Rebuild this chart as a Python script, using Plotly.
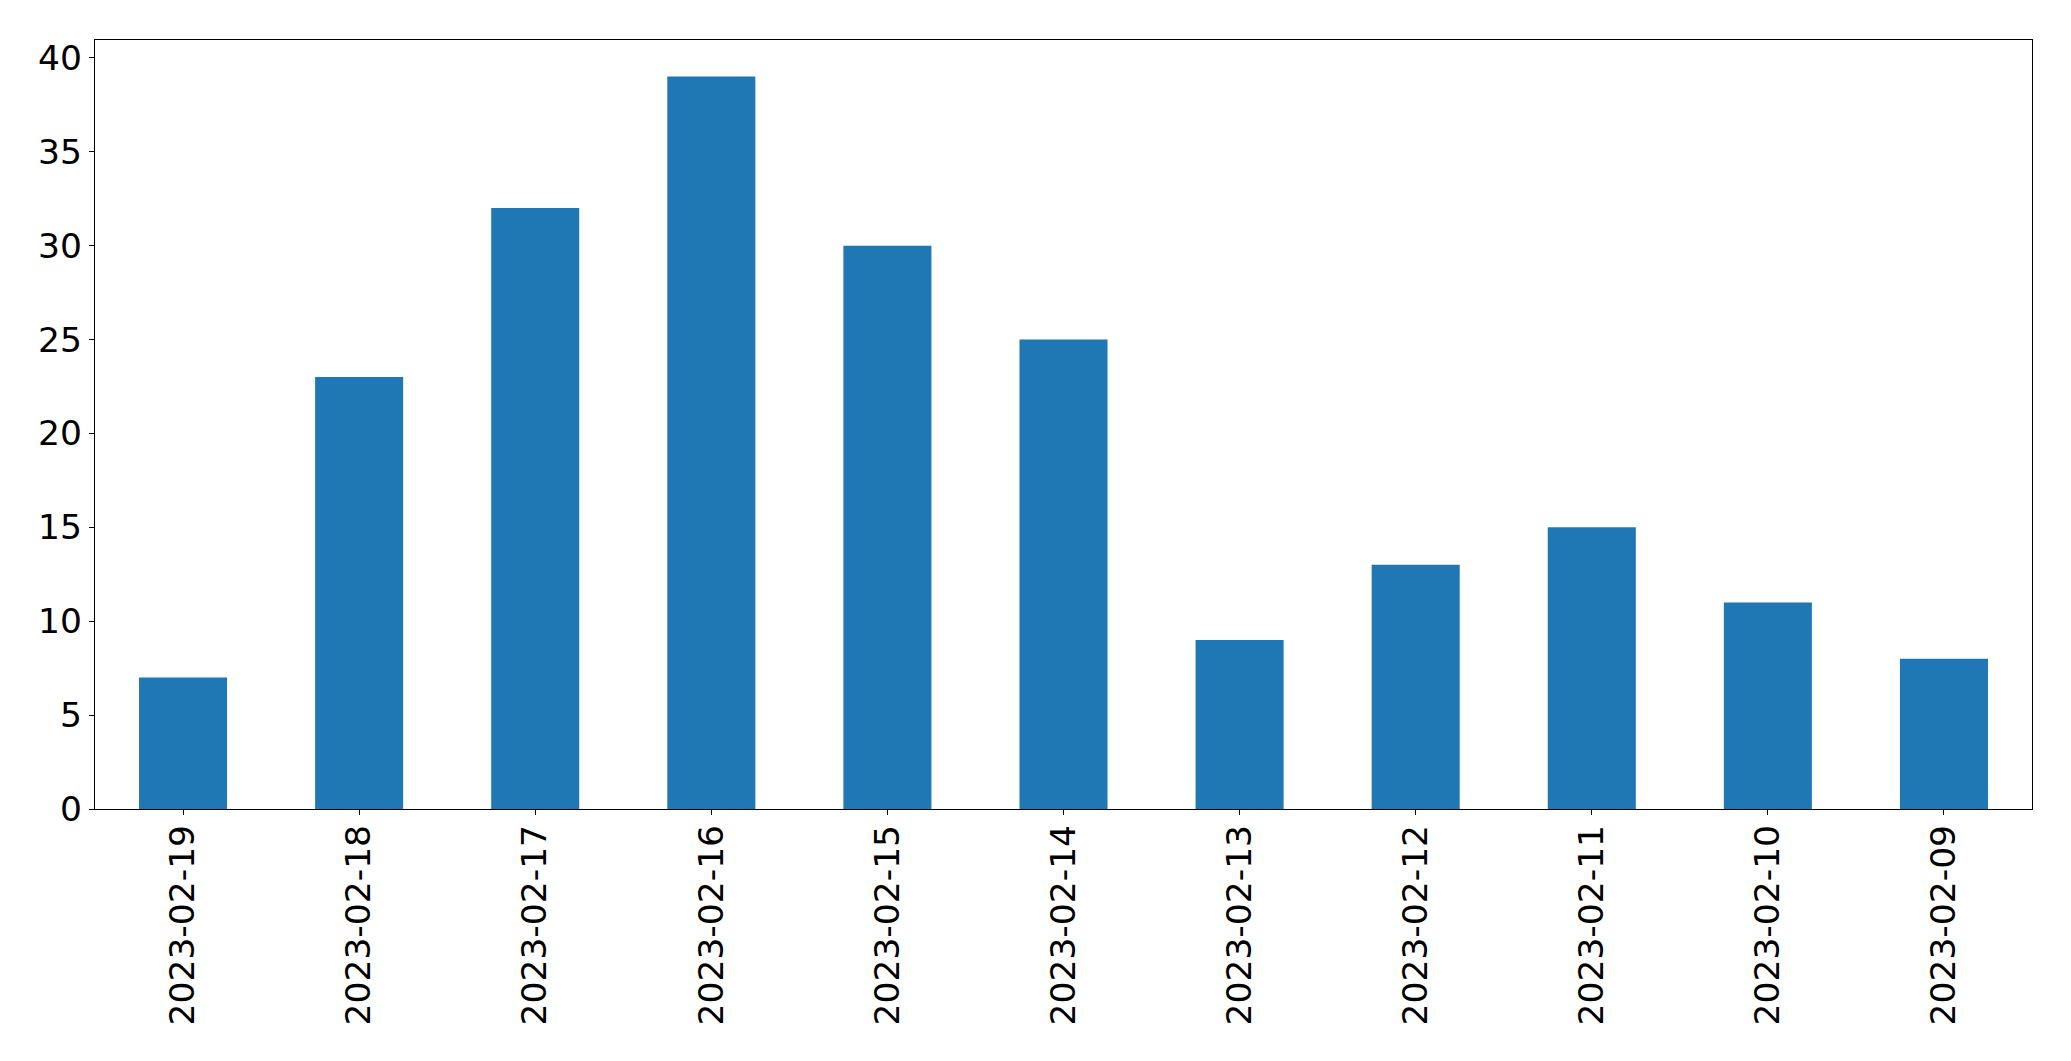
import plotly.graph_objects as go

dates = ["2023-02-19", "2023-02-18", "2023-02-17", "2023-02-16", "2023-02-15",
         "2023-02-14", "2023-02-13", "2023-02-12", "2023-02-11", "2023-02-10", "2023-02-09"]
counts = [7, 23, 32, 39, 30, 25, 9, 13, 15, 11, 8]

fig = go.Figure(go.Bar(x=dates, y=counts, width=0.5, marker=dict(color="#1f77b4", line=dict(width=0))))

axis_font = dict(family="DejaVu Sans", size=34.5, color="black")
fig.update_layout(
    width=2063, height=1053,
    margin=dict(l=87, r=39, t=32, b=252, pad=0),
    paper_bgcolor="white", plot_bgcolor="white",
    showlegend=False,
    bargap=0.5,
    xaxis=dict(type="category", categoryorder="array", categoryarray=dates,
               range=[-0.5, len(dates) - 0.5], tickangle=-90, tickfont=axis_font,
               showline=True, linecolor="black", linewidth=1.3, mirror=True,
               ticks="outside", ticklen=5, tickcolor="black", tickwidth=1.3,
               showgrid=False, zeroline=False, ticklabelstandoff=-4),
    yaxis=dict(range=[0, 40.95], tickvals=[0, 5, 10, 15, 20, 25, 30, 35, 40], tickfont=axis_font,
               showline=True, linecolor="black", linewidth=1.3, mirror=True,
               ticks="outside", ticklen=5, tickcolor="black", tickwidth=1.3,
               showgrid=False, zeroline=False, ticklabelstandoff=0),
)

fig.write_html("out.html")
